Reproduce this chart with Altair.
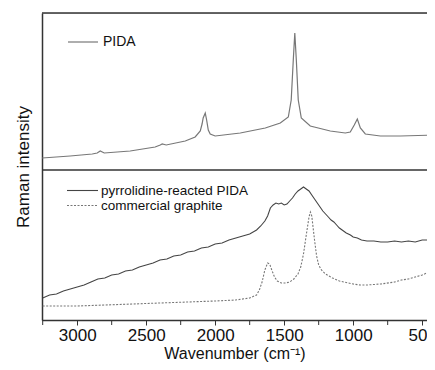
import altair as alt
import pandas as pd

# Top panel: PIDA (wavenumber, intensity; panel offset already included)
pida_wn = [3254, 3051, 2891, 2855, 2833, 2804, 2616, 2435, 2398, 2384, 2355, 2217, 2145, 2108, 2095, 2087, 2072,
           2062, 2050, 2036, 2000, 1818, 1637, 1528, 1470, 1449, 1434, 1423, 1412, 1398, 1376, 1311, 1166,
           1057, 1021, 992, 970, 948, 912, 803, 658, 405, 350]
pida_y = [162, 164, 166, 167, 169, 167, 169, 173, 175, 176, 175, 179, 183, 189, 196, 202, 207,
          200, 190, 186, 184, 187, 192, 197, 203, 220, 260, 287, 260, 220, 202, 194, 189,
          187, 188, 195, 201, 192, 186, 184, 184, 185, 185]

# Bottom panel: pyrrolidine-reacted PIDA
pyr_wn = [3250, 3200, 3150, 3100, 3050, 3000, 2950, 2900, 2850, 2800, 2750, 2700, 2650, 2600, 2550, 2500,
          2450, 2400, 2350, 2300, 2250, 2200, 2150, 2100, 2050, 2000, 1950, 1900, 1850, 1800, 1750, 1700,
          1670, 1640, 1620, 1600, 1580, 1560, 1540, 1520, 1500, 1480, 1460, 1440, 1420, 1400, 1380, 1360,
          1340, 1320, 1300, 1280, 1260, 1240, 1220, 1200, 1180, 1160, 1140, 1120, 1100, 1080, 1050, 1020,
          1000, 970, 940, 900, 850, 800, 750, 700, 650, 600, 550, 500, 450, 400, 350]
pyr_y = [22, 25, 26, 29, 31, 33, 35, 38, 41, 42, 45, 46, 49, 50, 53, 55,
         57, 60, 61, 64, 65, 68, 69, 72, 73, 76, 77, 80, 82, 84, 86, 90,
         94, 99, 104, 112, 115, 117, 116, 117, 115, 116, 119, 122, 126, 129, 131, 133,
         131, 129, 125, 121, 117, 113, 109, 106, 103, 100, 98, 95, 92, 90, 87, 85,
         83, 82, 80, 79, 79, 78, 78, 79, 78, 79, 78, 80, 80, 81, 81]

# Bottom panel: commercial graphite
gra_wn = [3250, 3000, 2800, 2600, 2400, 2200, 2000, 1850, 1750, 1700, 1680, 1660, 1640, 1620, 1605, 1590,
          1570, 1550, 1520, 1490, 1460, 1430, 1400, 1380, 1360, 1340, 1320, 1310, 1300, 1290, 1280, 1265,
          1250, 1230, 1200, 1150, 1100, 1000, 950, 900, 800, 700, 650, 600, 550, 500, 450, 400, 350]
gra_y = [14, 14, 15, 16, 17, 18, 19, 20, 22, 25, 30, 38, 50, 57, 56, 50,
         43, 39, 37, 37, 38, 41, 46, 53, 66, 85, 103, 108, 104, 92, 80, 64,
         55, 50, 46, 42, 39, 36, 35, 35, 36, 38, 40, 41, 43, 45, 48, 50, 52]

major_ticks = [500, 1000, 1500, 2000, 2500, 3000]
minor_ticks = [750, 1250, 1750, 2250, 2750, 3250]
FONT = "Liberation Sans"

pida = pd.DataFrame({"wn": pida_wn, "y": pida_y})
pyr = pd.DataFrame({"wn": pyr_wn, "y": pyr_y})
gra = pd.DataFrame({"wn": gra_wn, "y": gra_y})
minor = pd.DataFrame({"wn": minor_ticks})

xs = alt.Scale(domain=[3255, 465], nice=False, zero=False)
ys = alt.Scale(domain=[0, 307], nice=False, zero=False)

xenc = alt.X("wn:Q", scale=xs, axis=alt.Axis(
    title="Wavenumber (cm⁻¹)", values=major_ticks, format="d", labelOverlap=False, labelFlush=False,
    labelFont=FONT, labelFontSize=17, labelColor="#111", labelPadding=2,
    titleFont=FONT, titleFontSize=16, titleFontWeight="normal", titleColor="#111", titlePadding=2,
    tickSize=5, tickColor="#333", domainColor="#333", domainWidth=1.5, grid=False))
yenc = alt.Y("y:Q", scale=ys, axis=alt.Axis(
    title="Raman intensity", labels=False, ticks=False, domain=True, domainColor="#333", domainWidth=1.5,
    grid=False, titleFont=FONT, titleFontSize=17, titleFontWeight="normal", titleColor="#111", titlePadding=10))

l_pida = alt.Chart(pida).mark_line(color="#777", strokeWidth=1.2).encode(x=xenc, y=yenc)
l_pyr = alt.Chart(pyr).mark_line(color="#444", strokeWidth=1.1).encode(x="wn:Q", y="y:Q")
l_gra = alt.Chart(gra).mark_line(color="#777", strokeWidth=1.1, strokeDash=[2, 1.5]).encode(x="wn:Q", y="y:Q")

minor_rules = alt.Chart(minor).mark_rule(color="#333", strokeWidth=1).encode(
    x="wn:Q", y=alt.value(307), y2=alt.value(312))

# divider between the panels and the top frame line
frame = alt.Chart(pd.DataFrame({"y": [150, 307]})).mark_rule(color="#333", strokeWidth=1.5).encode(y="y:Q")

leg_pida_line = alt.Chart(pd.DataFrame({"a": [0]})).mark_rule(color="#777", strokeWidth=1.2).encode(
    x=alt.value(26), x2=alt.value(56), y=alt.value(29))
leg_pida_text = alt.Chart(pd.DataFrame({"t": ["PIDA"]})).mark_text(
    align="left", baseline="middle", font=FONT, fontSize=14, color="#111").encode(
    x=alt.value(61), y=alt.value(29), text="t:N")
leg_pyr_line = alt.Chart(pd.DataFrame({"a": [0]})).mark_rule(color="#444", strokeWidth=1.1).encode(
    x=alt.value(25), x2=alt.value(56), y=alt.value(177.5))
leg_pyr_text = alt.Chart(pd.DataFrame({"t": ["pyrrolidine-reacted PIDA"]})).mark_text(
    align="left", baseline="middle", font=FONT, fontSize=13.5, color="#111").encode(
    x=alt.value(59), y=alt.value(177.5), text="t:N")
leg_gra_line = alt.Chart(pd.DataFrame({"a": [0]})).mark_rule(color="#777", strokeWidth=1.1, strokeDash=[2, 1.5]).encode(
    x=alt.value(25), x2=alt.value(56), y=alt.value(192.5))
leg_gra_text = alt.Chart(pd.DataFrame({"t": ["commercial graphite"]})).mark_text(
    align="left", baseline="middle", font=FONT, fontSize=13.5, color="#111").encode(
    x=alt.value(59), y=alt.value(192.5), text="t:N")

chart = alt.layer(
    l_pida, l_gra, l_pyr, minor_rules, frame,
    leg_pida_line, leg_pida_text, leg_pyr_line, leg_pyr_text, leg_gra_line, leg_gra_text
).properties(
    width=385, height=307,
    autosize=alt.AutoSizeParams(type="none"),
    padding={"left": 34, "top": 5, "right": 0, "bottom": 42},
).configure_view(stroke=None).configure(background="white")

chart.save("out.html", embed_options={"renderer": "svg", "actions": False})
